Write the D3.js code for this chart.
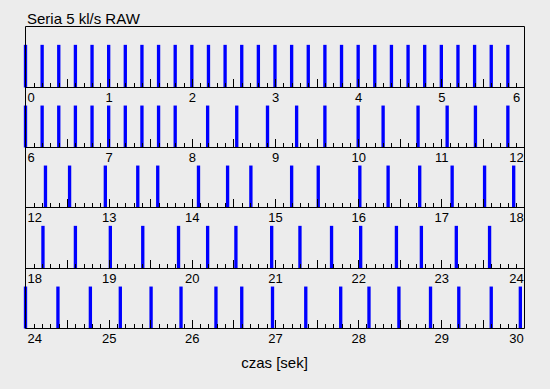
<!DOCTYPE html>
<html>
<head>
<meta charset="utf-8">
<script src="https://cdn.jsdelivr.net/npm/d3@7"></script>
<style>
  body { margin: 0; background: #ececec; }
  svg { display: block; }
  text { font-family: "Liberation Sans", Arial, Helvetica, sans-serif; fill: #000; }
</style>
</head>
<body>
<div class="container"></div>
<script>

// dane
const title = "Seria 5 kl/s RAW"
const xTitle = "czas [sek]"
const panelStarts = [0, 6, 12, 18, 24]
const panelLen = 6
const binWidth = 0.04   // szerokosc slupka [s]
const amplitude = 1     // wysokosc kazdego impulsu

// czasy impulsow [s]
const pulses = [
  // 0 - 6
  0.0, 0.2, 0.4, 0.6, 0.8, 1.0, 1.2, 1.4, 1.6, 1.8,
  2.0, 2.2, 2.4, 2.6, 2.8, 3.0, 3.2, 3.4, 3.6, 3.8,
  4.0, 4.2, 4.4, 4.6, 4.8, 5.0, 5.2, 5.4, 5.6, 5.8,
  // 6 - 12
  6.0, 6.2, 6.4, 6.6, 6.8, 7.0, 7.2, 7.4, 7.6, 7.8,
  8.19, 8.54, 8.91, 9.26, 9.6, 10.0, 10.3, 10.72, 11.07, 11.41, 11.8,
  // 12 - 18
  12.24, 12.53, 12.96, 13.35, 13.59, 14.08, 14.43, 14.71,
  15.2, 15.52, 16.02, 16.36, 16.74, 17.13, 17.52, 17.87,
  // 18 - 24
  18.21, 18.6, 19.02, 19.41, 19.84, 20.19, 20.53, 20.96,
  21.3, 21.68, 22.03, 22.46, 22.76, 23.18, 23.58,
  // 24 - 30
  24.0, 24.39, 24.78, 25.14, 25.51, 25.87, 26.29, 26.6, 26.97,
  27.37, 27.79, 28.13, 28.49, 28.87, 29.21, 29.6, 29.95
]

const w = 550
const h = 389
const frameLeft = 25.5
const frameRight = 524.5
const frameTop = 26.5
const padH = 60.3

const svg = d3.select(".container")
.append("svg")
.attr("width", w)
.attr("height", h)

svg.append("rect")
.attr("width", w)
.attr("height", h)
.attr("fill", "#ececec")

const bottomOf = (i) => Math.floor(27 + (i + 1) * padH) + 0.5

panelStarts.forEach((start, i) => {
    const yBottom = bottomOf(i)
    const yTop = i === 0 ? frameTop : bottomOf(i - 1)

    const xScale = d3.scaleLinear()
    .domain([start, start + panelLen])
    .range([frameLeft, frameRight])

    const yScale = d3.scaleLinear()
    .domain([0, 1.43])
    .range([yBottom, yTop])

    const g = svg.append("g").attr("class", "panel")

    const data = pulses.filter(t => t >= start && t < start + panelLen)
    const bw = xScale(start + binWidth) - xScale(start)

    g.selectAll("rect.bar")
    .data(data)
    .enter()
    .append("rect")
    .attr("class", "bar")
    .attr("x", (d) => xScale(d) - bw / 2)
    .attr("y", yScale(amplitude))
    .attr("width", bw)
    .attr("height", yScale(0) - yScale(amplitude))
    .attr("fill", "#0000ff")

    // drobne podzialki co 0.1 s
    const minorTicks = d3.range(1, panelLen * 10).filter(k => k % 5 !== 0).map(k => start + k / 10)
    const midTicks = d3.range(1, panelLen * 2).map(k => start + k / 2)
    const labels = d3.range(0, panelLen + 1).map(k => start + k)

    const tickAxis = (vals, size) => {
        const ax = g.append("g")
        .attr("transform", "translate(0," + yBottom + ")")
        .call(d3.axisBottom(xScale).tickValues(vals).tickSize(-size).tickFormat(""))
        ax.select(".domain").remove()
        ax.selectAll("line").attr("stroke", "#000").attr("shape-rendering", "crispEdges")
    }
    tickAxis(minorTicks, 5)
    tickAxis(midTicks, 9)

    const labAxis = g.append("g")
    .attr("transform", "translate(0," + yBottom + ")")
    .call(d3.axisBottom(xScale).tickValues(labels).tickSize(0).tickPadding(5).tickFormat(d3.format("d")))
    labAxis.select(".domain").remove()
    labAxis.selectAll("text")
    .style("font-size", "13px")
    .style("font-family", "\"Liberation Sans\", Arial, sans-serif")
    .attr("fill", "#000")

    // skrajne etykiety przesuniete do wnetrza ramki
    labAxis.selectAll(".tick").filter((d) => d === start).select("text")
    .attr("text-anchor", "start")
    .attr("x", 1.5)
    labAxis.selectAll(".tick").filter((d) => d === start + panelLen).select("text")
    .attr("x", -8.5)

    svg.append("line")
    .attr("x1", frameLeft).attr("x2", frameRight)
    .attr("y1", yBottom).attr("y2", yBottom)
    .attr("stroke", "#000")
})

// ramka
svg.append("path")
.attr("d", "M" + frameLeft + "," + bottomOf(4) + "V" + frameTop + "H" + frameRight + "V" + bottomOf(4))
.attr("fill", "none")
.attr("stroke", "#000")

svg.append("text")
.attr("x", 27)
.attr("y", 24)
.style("font-size", "15px")
.text(title)

svg.append("text")
.attr("x", 274.5)
.attr("y", 368)
.style("text-anchor", "middle")
.style("font-size", "15px")
.text(xTitle)

</script>
</body>
</html>
